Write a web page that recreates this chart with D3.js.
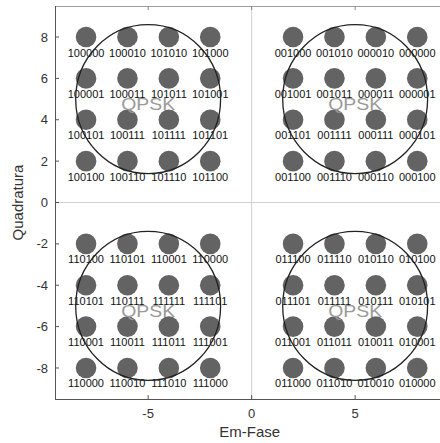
<!DOCTYPE html>
<html>
<head>
<meta charset="utf-8">
<script src="https://cdn.jsdelivr.net/npm/d3@7"></script>
<style>
  body { margin: 0; background: #fff; }
  svg { display: block; font-family: "Liberation Sans", Arial, sans-serif; }
</style>
</head>
<body>
<div id="chart"></div>
<script>
// constellation levels (same on both axes)
const LEVELS = [-8, -6, -4, -2, 2, 4, 6, 8]
// bit labels, rows from top (Q = 8) to bottom (Q = -8), columns from I = -8 to I = 8
const BIT_LABELS = [
  ["100000", "100010", "101010", "101000", "001000", "001010", "000010", "000000"],
  ["100001", "100011", "101011", "101001", "001001", "001011", "000011", "000001"],
  ["100101", "100111", "101111", "101101", "001101", "001111", "000111", "000101"],
  ["100100", "100110", "101110", "101100", "001100", "001110", "000110", "000100"],
  ["110100", "110101", "110001", "110000", "011100", "011110", "010110", "010100"],
  ["110101", "110111", "111111", "111101", "011101", "011111", "010111", "010101"],
  ["110001", "110011", "111011", "111001", "011001", "011011", "010011", "010001"],
  ["110000", "110010", "111010", "111000", "011000", "011010", "010010", "010000"]
]
const QPSK_CENTERS = [[-5, 5], [5, 5], [-5, -5], [5, -5]]
const X_TICKS = [-5, 0, 5]
const Y_TICKS = [8, 6, 4, 2, 0, -2, -4, -6, -8]

const width = 440, height = 443
const x = d3.scaleLinear().domain([-9.5, 9.5]).range([55, 448.3])
const y = d3.scaleLinear().domain([-9.5, 9.5]).range([399, 6])

const svg = d3.select("#chart").append("svg")
  .attr("width", width)
  .attr("height", height)

const points = []
const rowsY = LEVELS.slice().reverse()
rowsY.forEach((q, r) => {
  LEVELS.forEach((i, c) => points.push({ i, q, label: BIT_LABELS[r][c] }))
})

// zero lines
svg.append("line")
  .attr("x1", x(0)).attr("x2", x(0)).attr("y1", y(9.5)).attr("y2", y(-9.5))
  .attr("stroke", "#d0d0d0").attr("stroke-width", 1)
svg.append("line")
  .attr("x1", x(-9.5)).attr("x2", x(9.5)).attr("y1", y(0)).attr("y2", y(0))
  .attr("stroke", "#d0d0d0").attr("stroke-width", 1)

// frame: top border gray, left and bottom darker
svg.append("line")
  .attr("x1", x(-9.5)).attr("x2", x(9.5)).attr("y1", y(9.5) + 0.5).attr("y2", y(9.5) + 0.5)
  .attr("stroke", "#a0a0a0")
svg.append("line")
  .attr("x1", x(-9.5) + 0.5).attr("x2", x(-9.5) + 0.5).attr("y1", y(9.5)).attr("y2", y(-9.5))
  .attr("stroke", "#555")
svg.append("line")
  .attr("x1", x(-9.5)).attr("x2", x(9.5)).attr("y1", y(-9.5) + 0.5).attr("y2", y(-9.5) + 0.5)
  .attr("stroke", "#555")

// ticks (inward)
X_TICKS.forEach(t => {
  svg.append("line")
    .attr("x1", x(t)).attr("x2", x(t)).attr("y1", y(-9.5)).attr("y2", y(-9.5) - 4)
    .attr("stroke", "#555")
  svg.append("line")
    .attr("x1", x(t)).attr("x2", x(t)).attr("y1", y(9.5)).attr("y2", y(9.5) + 4)
    .attr("stroke", "#888")
})
Y_TICKS.forEach(t => {
  svg.append("line")
    .attr("x1", x(-9.5)).attr("x2", x(-9.5) + 4).attr("y1", y(t)).attr("y2", y(t))
    .attr("stroke", "#555")
})

// text layer kept grayscale-antialiased
const txt = svg.append("g").attr("opacity", 0.999)

// tick labels
txt.selectAll(".xt")
  .data(X_TICKS)
  .enter()
  .append("text")
  .attr("class", "xt")
  .attr("x", d => x(d))
  .attr("y", y(-9.5) + 19)
  .attr("text-anchor", "middle")
  .attr("font-size", "13px")
  .attr("fill", "#333")
  .text(d => d)

txt.selectAll(".yt")
  .data(Y_TICKS)
  .enter()
  .append("text")
  .attr("class", "yt")
  .attr("x", x(-9.5) - 7)
  .attr("y", d => y(d))
  .attr("dy", "0.35em")
  .attr("text-anchor", "end")
  .attr("font-size", "13px")
  .attr("fill", "#333")
  .text(d => d)

// axis titles
txt.append("text")
  .attr("x", x(0) - 2)
  .attr("y", 437)
  .attr("text-anchor", "middle")
  .attr("font-size", "15px")
  .attr("fill", "#333")
  .text("Em-Fase")

txt.append("text")
  .attr("transform", `translate(23, ${y(0)}) rotate(-90)`)
  .attr("text-anchor", "middle")
  .attr("font-size", "15px")
  .attr("fill", "#333")
  .text("Quadratura")

// constellation points
svg.selectAll(".pt")
  .data(points)
  .enter()
  .append("circle")
  .attr("class", "pt")
  .attr("cx", d => x(d.i))
  .attr("cy", d => y(d.q))
  .attr("r", 10.3)
  .attr("fill", "#636363")

const lbl = svg.append("g").attr("opacity", 0.999)
lbl.selectAll(".lbl")
  .data(points)
  .enter()
  .append("text")
  .attr("class", "lbl")
  .attr("x", d => x(d.i))
  .attr("y", d => y(d.q) + 19.5)
  .attr("text-anchor", "middle")
  .attr("font-size", "11px")
  .attr("fill", "#111")
  .text(d => d.label)

// QPSK circles
svg.selectAll(".ring")
  .data(QPSK_CENTERS)
  .enter()
  .append("ellipse")
  .attr("class", "ring")
  .attr("cx", d => x(d[0]))
  .attr("cy", d => y(d[1]))
  .attr("rx", x(3.5) - x(0))
  .attr("ry", y(0) - y(3.6))
  .attr("fill", "none")
  .attr("stroke", "#222")
  .attr("stroke-width", 1.3)

const q = svg.append("g").attr("opacity", 0.999)
q.selectAll(".qpsk")
  .data(QPSK_CENTERS)
  .enter()
  .append("text")
  .attr("class", "qpsk")
  .attr("x", d => x(d[0]))
  .attr("y", d => y(d[1] - 0.55))
  .attr("text-anchor", "middle")
  .attr("font-size", "17px")
  .attr("textLength", 54)
  .attr("lengthAdjust", "spacingAndGlyphs")
  .attr("fill", "#9a9a9a")
  .text("QPSK")
</script>
</body>
</html>
